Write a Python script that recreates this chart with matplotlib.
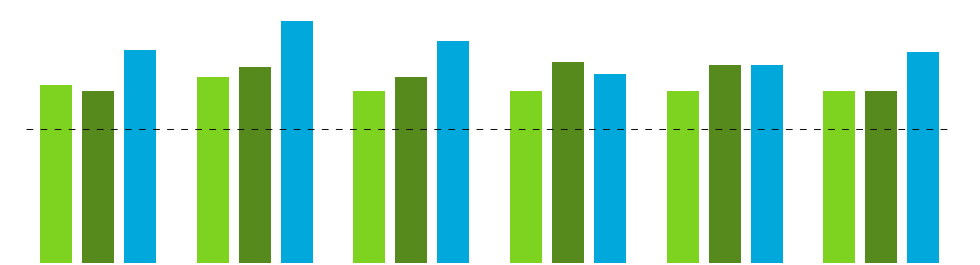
import matplotlib
matplotlib.use("Agg")
import matplotlib.pyplot as plt
import numpy as np

# values (baseline = 0)
groups = ["G1", "G2", "G3", "G4", "G5", "G6"]
series_a = [177.7, 186.0, 171.7, 171.7, 171.7, 171.7]   # light green
series_b = [172.0, 195.7, 186.0, 200.7, 198.0, 171.7]   # dark green
series_c = [213.3, 241.7, 222.0, 188.7, 198.0, 210.7]   # blue
reference = 134.0

colors = ["#7ED321", "#568A1D", "#00A8DC"]

step = 1.0 / 156.66   # one pixel in x data units
width = 32 * step
offset = 42 * step

fig = plt.figure(figsize=(9.8, 2.65), dpi=100)
ax = fig.add_axes([0, 0, 1, 1])

x = np.arange(len(groups))
for k, (vals, col) in enumerate(zip([series_a, series_b, series_c], colors)):
    ax.bar(x + (k - 1) * offset, vals, width=width, color=col, linewidth=0)

left = x[0] - offset - width / 2 - 14 * step
right = x[-1] + offset + width / 2 + 13 * step
ax.hlines(reference, left, right, colors="#111111", linewidth=0.75,
          linestyles=(0, (6.5, 7)), zorder=3)

ax.set_xlim(-98 * step, (980 - 98) * step)
ax.set_ylim(-2, 263)
ax.axis("off")

fig.savefig("out.png", dpi=100, facecolor="white")
